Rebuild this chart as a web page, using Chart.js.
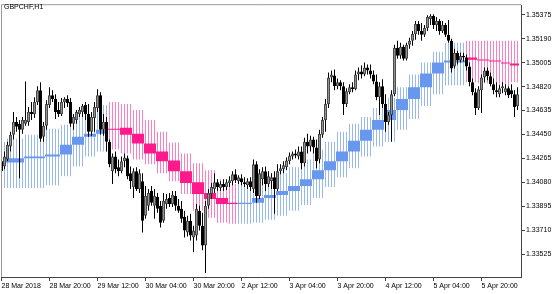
<!DOCTYPE html>
<html>
<head>
<meta charset="utf-8">
<script src="https://cdn.jsdelivr.net/npm/chart.js@4.4.1/dist/chart.umd.min.js"></script>
<style>
    body { margin: 0; background: #ffffff; }
    canvas { display: block; }
</style>
</head>
<body>
<canvas id="priceChart" width="560" height="294"></canvas>
<script>
// GBPCHF H1 candles, one entry per bar (first bar 28 Mar 2018 04:00)
var openP = [
    1.34242, 1.34203, 1.34257, 1.34356, 1.34448, 1.34547, 1.34532, 1.34486, 1.34532, 1.34547,
    1.34624, 1.34608, 1.34700, 1.34792, 1.34433, 1.34517, 1.34677, 1.34753, 1.34723, 1.34639,
    1.34608, 1.34700, 1.34723, 1.34700, 1.34532, 1.34562, 1.34608, 1.34624, 1.34677, 1.34608,
    1.34471, 1.34578, 1.34654, 1.34753, 1.34486, 1.34547, 1.34394, 1.34165, 1.34280, 1.34196,
    1.34165, 1.34242, 1.34265, 1.34150, 1.34043, 1.34165, 1.34028, 1.34089, 1.33821, 1.33898,
    1.34012, 1.33898, 1.33967, 1.33898, 1.33783, 1.33913, 1.33959, 1.33913, 1.33974, 1.33898,
    1.33875, 1.33814, 1.33692, 1.33783, 1.33653, 1.33669, 1.33860, 1.33745, 1.33592, 1.33898,
    1.33989, 1.34028, 1.34081, 1.34035, 1.34066, 1.34043, 1.34074, 1.34089, 1.34142, 1.34089,
    1.34112, 1.34081, 1.34058, 1.34089, 1.34028, 1.34219, 1.33974, 1.34104, 1.34165, 1.34066,
    1.34089, 1.34119, 1.34028, 1.34165, 1.34180, 1.34196, 1.34242, 1.34280, 1.34303, 1.34280,
    1.34318, 1.34227, 1.34394, 1.34356, 1.34410, 1.34349, 1.34257, 1.34448, 1.34562, 1.34685,
    1.34891, 1.34906, 1.34822, 1.34853, 1.34822, 1.34685, 1.34776, 1.34815, 1.34799, 1.34914,
    1.34937, 1.34914, 1.34967, 1.34944, 1.34914, 1.34860, 1.34738, 1.34822, 1.34685, 1.34547,
    1.34601, 1.34761, 1.35120, 1.35059, 1.35128, 1.35036, 1.35143, 1.35174, 1.35227, 1.35304,
    1.35250, 1.35220, 1.35273, 1.35342, 1.35365, 1.35296, 1.35326, 1.35250, 1.35296, 1.35220,
    1.35174, 1.34975, 1.35082, 1.35021, 1.35059, 1.35044, 1.34975, 1.34853, 1.34776, 1.34654,
    1.34792, 1.34891, 1.34944, 1.34899, 1.34838, 1.34792, 1.34761, 1.34807, 1.34776, 1.34807,
    1.34792, 1.34761, 1.34669
];
var highP = [
    1.34272, 1.34318, 1.34394, 1.34471, 1.34624, 1.34585, 1.34562, 1.34585, 1.34860, 1.34662,
    1.34700, 1.34738, 1.34822, 1.34853, 1.34547, 1.34715, 1.34815, 1.34792, 1.34761, 1.34700,
    1.34731, 1.34738, 1.34753, 1.34731, 1.34608, 1.34639, 1.34662, 1.34685, 1.34700, 1.34685,
    1.34624, 1.34700, 1.34799, 1.34776, 1.34608, 1.34585, 1.34410, 1.34303, 1.34318, 1.34257,
    1.34280, 1.34303, 1.34288, 1.34203, 1.34188, 1.34196, 1.34180, 1.34150, 1.34051, 1.34028,
    1.34051, 1.34028, 1.33997, 1.33936, 1.33997, 1.33989, 1.33997, 1.34012, 1.34012, 1.33951,
    1.33936, 1.33860, 1.33821, 1.33837, 1.33745, 1.33913, 1.33898, 1.33844, 1.33936, 1.34028,
    1.34074, 1.34150, 1.34104, 1.34089, 1.34104, 1.34104, 1.34127, 1.34165, 1.34180, 1.34135,
    1.34142, 1.34119, 1.34112, 1.34119, 1.34257, 1.34242, 1.34180, 1.34196, 1.34203, 1.34165,
    1.34150, 1.34165, 1.34219, 1.34219, 1.34242, 1.34272, 1.34310, 1.34318, 1.34333, 1.34356,
    1.34356, 1.34425, 1.34456, 1.34440, 1.34433, 1.34410, 1.34486, 1.34585, 1.34723, 1.34929,
    1.34944, 1.34952, 1.34883, 1.34868, 1.34853, 1.34807, 1.34838, 1.34853, 1.34944, 1.34967,
    1.34983, 1.35006, 1.34990, 1.34990, 1.34944, 1.34914, 1.34853, 1.34876, 1.34761, 1.34624,
    1.34792, 1.35143, 1.35174, 1.35158, 1.35143, 1.35158, 1.35197, 1.35250, 1.35326, 1.35326,
    1.35311, 1.35296, 1.35372, 1.35380, 1.35380, 1.35357, 1.35342, 1.35326, 1.35311, 1.35334,
    1.35189, 1.35113, 1.35097, 1.35082, 1.35082, 1.35067, 1.35006, 1.34883, 1.34807, 1.34822,
    1.34914, 1.34967, 1.34967, 1.34929, 1.34883, 1.34853, 1.34830, 1.34853, 1.34838, 1.34822,
    1.34838, 1.34792, 1.34815
];
var lowP = [
    1.34150, 1.34180, 1.34242, 1.34318, 1.34410, 1.34471, 1.34112, 1.34456, 1.34517, 1.34517,
    1.34562, 1.34578, 1.34677, 1.34394, 1.34394, 1.34486, 1.34654, 1.34700, 1.34570, 1.34585,
    1.34593, 1.34654, 1.34662, 1.34509, 1.34486, 1.34532, 1.34585, 1.34585, 1.34562, 1.34433,
    1.34440, 1.34471, 1.34624, 1.34448, 1.34440, 1.34318, 1.34196, 1.34066, 1.34150, 1.34127,
    1.34150, 1.34196, 1.34104, 1.34028, 1.33959, 1.34012, 1.33997, 1.33692, 1.33798, 1.33860,
    1.33898, 1.33798, 1.33844, 1.33730, 1.33768, 1.33875, 1.33890, 1.33890, 1.33860, 1.33844,
    1.33768, 1.33653, 1.33661, 1.33630, 1.33539, 1.33630, 1.33707, 1.33554, 1.33378, 1.33875,
    1.33951, 1.33997, 1.34012, 1.34012, 1.34012, 1.34020, 1.34043, 1.34058, 1.34074, 1.34066,
    1.34058, 1.34043, 1.34028, 1.34012, 1.33997, 1.33921, 1.33951, 1.34058, 1.34012, 1.34043,
    1.34028, 1.33837, 1.34012, 1.34142, 1.34150, 1.34173, 1.34219, 1.34257, 1.34265, 1.34257,
    1.34180, 1.34203, 1.34303, 1.34318, 1.34303, 1.34188, 1.34227, 1.34425, 1.34471, 1.34654,
    1.34853, 1.34792, 1.34799, 1.34792, 1.34601, 1.34662, 1.34761, 1.34776, 1.34792, 1.34868,
    1.34883, 1.34899, 1.34914, 1.34883, 1.34838, 1.34715, 1.34601, 1.34654, 1.34471, 1.34524,
    1.34394, 1.34746, 1.35036, 1.35036, 1.35021, 1.35021, 1.35113, 1.35135, 1.35181, 1.35220,
    1.35174, 1.35204, 1.35250, 1.35296, 1.35265, 1.35250, 1.35220, 1.35235, 1.35204, 1.35158,
    1.34929, 1.34960, 1.34990, 1.35006, 1.35013, 1.34944, 1.34822, 1.34753, 1.34601, 1.34639,
    1.34616, 1.34853, 1.34868, 1.34822, 1.34761, 1.34738, 1.34738, 1.34769, 1.34753, 1.34731,
    1.34731, 1.34585, 1.34639
];
var closeP = [
    1.34165, 1.34280, 1.34371, 1.34448, 1.34547, 1.34509, 1.34486, 1.34562, 1.34562, 1.34624,
    1.34608, 1.34700, 1.34792, 1.34417, 1.34517, 1.34685, 1.34753, 1.34723, 1.34624, 1.34608,
    1.34700, 1.34723, 1.34692, 1.34532, 1.34585, 1.34624, 1.34639, 1.34669, 1.34608, 1.34471,
    1.34585, 1.34662, 1.34753, 1.34486, 1.34547, 1.34394, 1.34219, 1.34280, 1.34180, 1.34165,
    1.34242, 1.34272, 1.34127, 1.34089, 1.34165, 1.34028, 1.34150, 1.33783, 1.33974, 1.33997,
    1.33921, 1.33974, 1.33875, 1.33768, 1.33936, 1.33951, 1.33913, 1.33982, 1.33898, 1.33860,
    1.33798, 1.33707, 1.33783, 1.33669, 1.33707, 1.33875, 1.33745, 1.33592, 1.33898, 1.33997,
    1.34043, 1.34081, 1.34043, 1.34066, 1.34043, 1.34081, 1.34096, 1.34142, 1.34096, 1.34119,
    1.34081, 1.34066, 1.34089, 1.34043, 1.34219, 1.33974, 1.34150, 1.34165, 1.34066, 1.34127,
    1.34119, 1.34028, 1.34165, 1.34188, 1.34211, 1.34249, 1.34288, 1.34303, 1.34288, 1.34318,
    1.34227, 1.34394, 1.34356, 1.34410, 1.34349, 1.34242, 1.34456, 1.34562, 1.34685, 1.34891,
    1.34914, 1.34822, 1.34853, 1.34822, 1.34685, 1.34784, 1.34815, 1.34799, 1.34914, 1.34937,
    1.34914, 1.34967, 1.34944, 1.34914, 1.34860, 1.34738, 1.34822, 1.34685, 1.34547, 1.34601,
    1.34761, 1.35120, 1.35059, 1.35128, 1.35036, 1.35143, 1.35174, 1.35227, 1.35304, 1.35250,
    1.35220, 1.35273, 1.35357, 1.35365, 1.35296, 1.35326, 1.35250, 1.35296, 1.35220, 1.35174,
    1.34960, 1.35082, 1.35021, 1.35059, 1.35044, 1.34975, 1.34853, 1.34776, 1.34654, 1.34799,
    1.34891, 1.34944, 1.34899, 1.34838, 1.34792, 1.34776, 1.34807, 1.34822, 1.34807, 1.34753,
    1.34761, 1.34662, 1.34761
];

// step channel indicator, one entry per step: first bar, band top/bottom, step block, direction
var stepStart = [0, 2, 8, 15, 20, 24, 28, 32, 36, 40, 44, 48, 52, 56, 60, 64, 68, 72, 76,
    79, 84, 88, 92, 96, 100, 104, 108, 112, 116, 120, 124, 128, 132, 136, 140, 144, 148,
    155, 159, 163, 167, 170];
var stepUp = [1.34394, 1.34417, 1.34448, 1.34494, 1.34524, 1.34585, 1.34624, 1.34677,
    1.34700, 1.34685, 1.34639, 1.34562, 1.34471, 1.34387, 1.34303, 1.34227, 1.34173, 1.34104, 1.34066,
    1.34066, 1.34089, 1.34119, 1.34150, 1.34196, 1.34257, 1.34333, 1.34394, 1.34471, 1.34532,
    1.34585, 1.34654, 1.34731, 1.34815, 1.34914, 1.35006, 1.35090, 1.35158,
    1.35174, 1.35174, 1.35174, 1.35174, 1.35174];
var stepDn = [1.34035, 1.34035, 1.34035, 1.34058, 1.34127, 1.34203, 1.34280, 1.34318,
    1.34333, 1.34303, 1.34257, 1.34219, 1.34150, 1.34089, 1.33989, 1.33860, 1.33806, 1.33768, 1.33760,
    1.33760, 1.33768, 1.33791, 1.33821, 1.33860, 1.33905, 1.33959, 1.34043, 1.34119, 1.34188,
    1.34280, 1.34356, 1.34394, 1.34486, 1.34570, 1.34669, 1.34761, 1.34830,
    1.34853, 1.34845, 1.34822, 1.34822, 1.34853];
var blockFrom = [1.34219, 1.34234, 1.34265, 1.34280, 1.34295, 1.34371, 1.34433, 1.34456,
    1.34494, 1.34501, 1.34456, 1.34379, 1.34318, 1.34249, 1.34165, 1.34081, 1.33997, 1.33959, 1.33921,
    1.33913, 1.33921, 1.33959, 1.33982, 1.34012, 1.34051, 1.34104, 1.34173, 1.34242, 1.34318,
    1.34402, 1.34486, 1.34562, 1.34639, 1.34723, 1.34815, 1.34922, 1.35006,
    1.35044, 1.35028, 1.35021, 1.35006, 1.34998];
var blockTo = [1.34242, 1.34265, 1.34280, 1.34295, 1.34371, 1.34433, 1.34456, 1.34486,
    1.34486, 1.34448, 1.34379, 1.34303, 1.34242, 1.34165, 1.34074, 1.33989, 1.33951, 1.33913, 1.33913,
    1.33921, 1.33959, 1.33982, 1.34012, 1.34051, 1.34104, 1.34173, 1.34242, 1.34318, 1.34402,
    1.34486, 1.34562, 1.34639, 1.34723, 1.34815, 1.34922, 1.35006, 1.35021,
    1.35028, 1.35021, 1.35013, 1.34998, 1.34983];
var stepDir = [1, 1, 1, 1, 1, 1, 1, 1,
    -1, -1, -1, -1, -1, -1, -1, -1, -1, -1, -1,
    1, 1, 1, 1, 1, 1, 1, 1, 1, 1, 1, 1, 1, 1, 1, 1, 1, 1,
    -1, -1, -1, -1, -1];

// axis ticks
var xTickBars = [0, 16, 32, 48, 64, 80, 96, 112, 128, 144, 160];
var xTickLabels = ['28 Mar 2018', '28 Mar 20:00', '29 Mar 12:00', '30 Mar 04:00', '30 Mar 20:00',
    '2 Apr 12:00', '3 Apr 04:00', '3 Apr 20:00', '4 Apr 12:00', '5 Apr 04:00', '5 Apr 20:00'];
var yTicks = [1.33525, 1.33710, 1.33895, 1.34080, 1.34265, 1.34450, 1.34635, 1.34820, 1.35005, 1.35190, 1.35375];

// build per-bar points
var wicks = [], bodies = [], bandLines = [], blocks = [];
var bodyColors = [], bodyEdges = [], lineColors = [], blockColors = [];
var g = 0;
for (var i = 0; i < closeP.length; i++) {
    while (g + 1 < stepStart.length && stepStart[g + 1] <= i) g++;
    var up = closeP[i] > openP[i];
    wicks.push({ x: i, y: [lowP[i], highP[i]] });
    bodies.push({ x: i, y: [openP[i], closeP[i]] });
    bodyColors.push(up ? '#939393' : '#000000');
    bodyEdges.push(up ? '#4a4a4a' : '#000000');
    bandLines.push({ x: i, y: [stepDn[g], stepUp[g]] });
    blocks.push({ x: i, y: [blockFrom[g], blockTo[g]] });
    lineColors.push(stepDir[g] > 0 ? '#96b9f3' : '#ff7ec2');
    blockColors.push(stepDir[g] > 0 ? '#6897ee' : '#ff1a8c');
}

var framePlugin = {
    id: 'frame',
    afterDraw: function (chart) {
        var a = chart.chartArea;
        var c = chart.ctx;
        c.save();
        c.strokeStyle = '#9a9a9a';
        c.lineWidth = 1;
        c.beginPath();
        c.moveTo(a.left + 0.5, a.bottom);
        c.lineTo(a.left + 0.5, a.top - 0.5);
        c.lineTo(a.right, a.top - 0.5);
        c.stroke();
        c.fillStyle = '#000000';
        c.font = '7px "Liberation Sans"';
        c.textBaseline = 'middle';
        c.fillText('GBPCHF,H1', 4, 7);
        c.restore();
    }
};

Chart.defaults.font.family = '"Liberation Sans", Arial, sans-serif';
Chart.defaults.font.size = 7;
Chart.defaults.color = '#000000';

var ctx = document.getElementById('priceChart').getContext('2d');
var priceChart = new Chart(ctx, {
    type: 'bar',
    data: {
        datasets: [
            {
                label: 'Body',
                data: bodies,
                backgroundColor: bodyColors,
                borderColor: bodyEdges,
                borderWidth: 1,
                barThickness: 3,
                minBarLength: 1,
                order: 1
            },
            {
                label: 'Wick',
                data: wicks,
                backgroundColor: '#000000',
                barThickness: 1,
                order: 2
            },
            {
                label: 'Step',
                data: blocks,
                backgroundColor: blockColors,
                barThickness: 3,
                minBarLength: 1,
                order: 3
            },
            {
                label: 'Band',
                data: bandLines,
                backgroundColor: lineColors,
                barThickness: 1,
                order: 4
            }
        ]
    },
    options: {
        responsive: false,
        animation: false,
        devicePixelRatio: 1,
        layout: { padding: { left: 1, top: 2, right: 0, bottom: 0 } },
        datasets: {
            bar: { grouped: false, borderWidth: 0, inflateAmount: 0, borderSkipped: false }
        },
        plugins: {
            legend: { display: false },
            tooltip: { enabled: false }
        },
        scales: {
            x: {
                type: 'linear',
                position: 'bottom',
                min: -0.1667,
                max: 173.1667,
                offset: false,
                afterBuildTicks: function (scale) {
                    scale.ticks = xTickBars.map(function (v) { return { value: v }; });
                },
                afterFit: function (scale) { scale.height = 17; },
                grid: { offset: false, drawOnChartArea: false, drawTicks: true, tickLength: 4, color: '#444444' },
                border: { display: true, color: '#444444' },
                ticks: {
                    autoSkip: false,
                    maxRotation: 0,
                    align: 'start',
                    padding: 1,
                    color: '#000000',
                    callback: function (v, idx) { return xTickLabels[idx]; }
                }
            },
            y: {
                type: 'linear',
                position: 'right',
                min: 1.33348,
                max: 1.35449,
                afterBuildTicks: function (scale) {
                    scale.ticks = yTicks.map(function (v) { return { value: v }; });
                },
                afterFit: function (scale) { scale.width = 39; },
                grid: { drawOnChartArea: false, drawTicks: true, tickLength: 4, color: '#444444' },
                border: { display: true, color: '#444444' },
                ticks: {
                    padding: 1,
                    color: '#000000',
                    callback: function (v) { return v.toFixed(5); }
                }
            }
        }
    },
    plugins: [framePlugin]
});
</script>
</body>
</html>
